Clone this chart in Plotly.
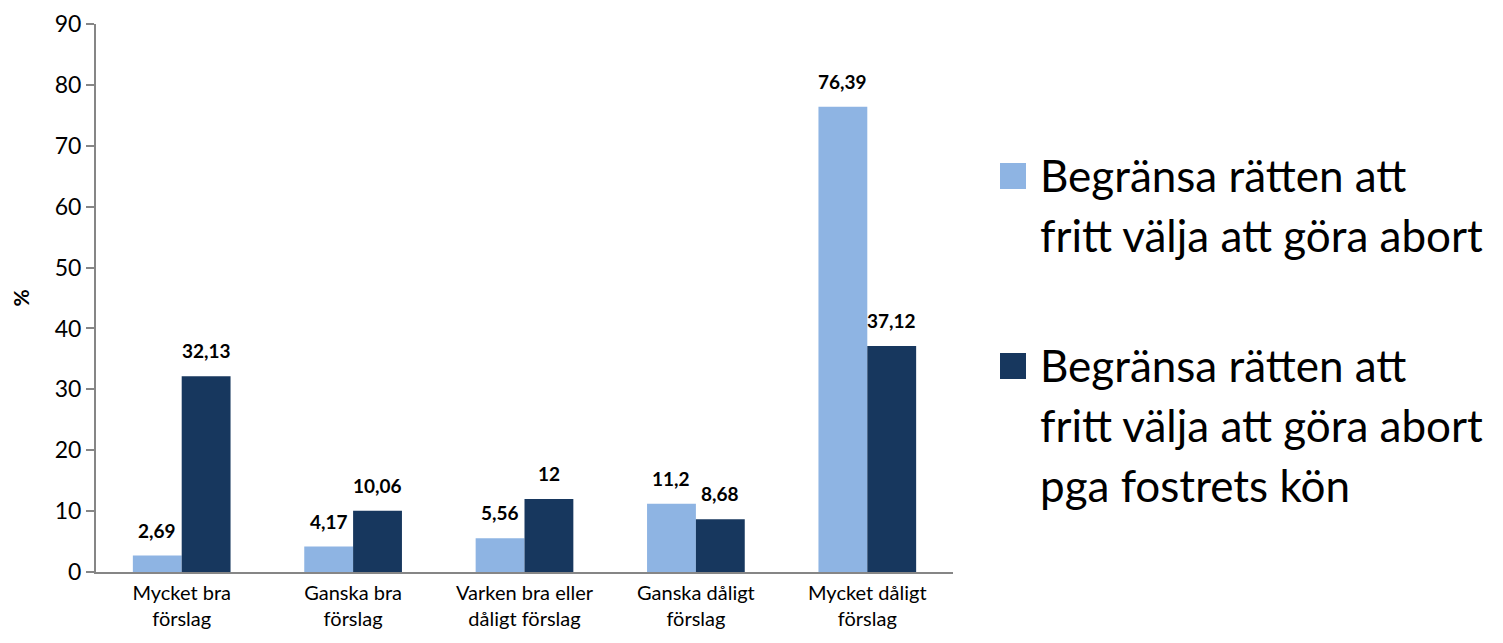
import plotly.graph_objects as go

categories = ["Mycket bra<br>förslag", "Ganska bra<br>förslag", "Varken bra eller<br>dåligt förslag",
              "Ganska dåligt<br>förslag", "Mycket dåligt<br>förslag"]
series_names = ["Begränsa rätten att fritt välja att göra abort",
                "Begränsa rätten att fritt välja att göra abort pga fostrets kön"]
legend_lines = [["Begränsa rätten att", "fritt välja att göra abort"],
                ["Begränsa rätten att", "fritt välja att göra abort", "pga fostrets kön"]]
values_a = [2.69, 4.17, 5.56, 11.2, 76.39]
values_b = [32.13, 10.06, 12, 8.68, 37.12]
colors = ["#8EB4E3", "#17375E"]
y_ticks = [0, 10, 20, 30, 40, 50, 60, 70, 80, 90]

FONT = "Lato"
OFF = 8  # default page body margin
W, H = 1487, 627
# plot area in page pixels
PX0, PX1, PY0, PY1 = 96, 953, 24, 572
L, T = PX0 - OFF, PY0 - OFF
R, B = W - (PX1 - OFF), H - (PY1 - OFF)
pw, ph = PX1 - PX0, PY1 - PY0


def fmt(v):
    return f"{v:g}".replace(".", ",")


def px2paper(px, py):
    return (px - PX0) / pw, (PY1 - py) / ph


fig = go.Figure()
for name, vals, col in zip(series_names, [values_a, values_b], colors):
    fig.add_trace(go.Bar(x=categories, y=vals, name=name, marker=dict(color=col, line=dict(width=0)),
                         showlegend=False))

bargap = 0.43
cat_px = pw / len(categories)
bar_px = cat_px * (1 - bargap) / 2
annotations = []
for si, vals in enumerate([values_a, values_b]):
    shift = (-0.5 + si) * bar_px
    for c, v in zip(categories, vals):
        annotations.append(dict(x=c, y=v, xref="x", yref="y", text=f"<b>{fmt(v)}</b>", showarrow=False,
                                xshift=shift, yshift=12, yanchor="bottom",
                                font=dict(family=FONT, size=19, color="#000000")))

# legend drawn manually (large square symbols, wide line spacing)
shapes = []
entry_tops = [163, 353]
for i, (lines, col) in enumerate(zip(legend_lines, colors)):
    top = entry_tops[i]
    x0, y0 = px2paper(1000, top)
    x1, y1 = px2paper(1026, top + 26)
    shapes.append(dict(type="rect", xref="paper", yref="paper", x0=x0, x1=x1, y0=y1, y1=y0,
                       fillcolor=col, line=dict(width=0)))
    for j, line in enumerate(lines):
        lx, ly = px2paper(1038, top + 12 + j * 60)
        annotations.append(dict(x=lx, y=ly, xref="paper", yref="paper", text=line, showarrow=False,
                                xanchor="left", yanchor="middle",
                                font=dict(family=FONT, size=44, color="#000000")))

fig.update_layout(
    width=W, height=H,
    margin=dict(l=L, r=R, t=T, b=B, autoexpand=False),
    paper_bgcolor="white", plot_bgcolor="white",
    barmode="group", bargap=bargap, bargroupgap=0,
    font=dict(family=FONT, color="#000000"),
    annotations=annotations, shapes=shapes,
    showlegend=False,
    xaxis=dict(showline=True, linecolor="#868686", linewidth=2, ticks="", showgrid=False,
               tickfont=dict(family=FONT, size=20), ticklabelstandoff=2),
    yaxis=dict(range=[0, 90], tickvals=y_ticks, showline=True, linecolor="#868686", linewidth=2,
               ticks="outside", ticklen=8, tickcolor="#868686", tickwidth=1.5, showgrid=False,
               zeroline=False, tickfont=dict(family=FONT, size=23),
               title=dict(text="<b>%</b>", font=dict(family=FONT, size=21), standoff=22)),
)

fig.write_html("out.html")
